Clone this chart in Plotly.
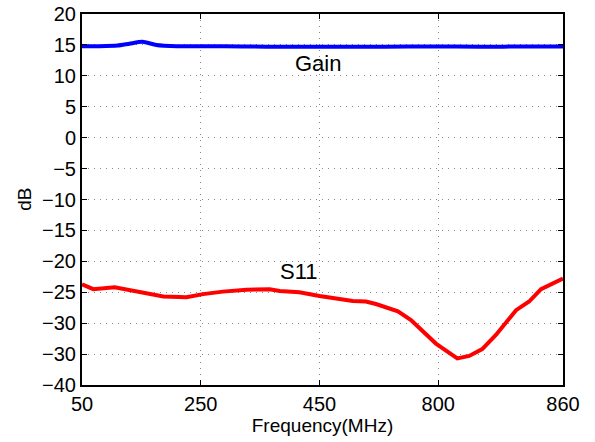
import plotly.graph_objects as go

# Data
gain_freq = [50, 80, 110, 130, 152, 175, 210, 260, 320, 400, 480, 560, 640, 720, 800, 860]
gain_db = [14.8, 14.8, 14.9, 15.2, 15.5, 15.0, 14.8, 14.8, 14.75, 14.7, 14.7, 14.7, 14.75, 14.7, 14.75, 14.75]

s11_freq = [50, 69, 105, 142, 187, 226, 254, 287, 327, 366, 383, 416, 450, 506, 528, 545,
            582, 604, 646, 682, 702, 724, 747, 781, 803, 823, 860]
s11_db = [-23.7, -24.5, -24.2, -24.9, -25.7, -25.8, -25.3, -24.9, -24.6, -24.5, -24.8, -25.0,
          -25.6, -26.4, -26.5, -26.9, -28.1, -29.5, -33.3, -35.7, -35.3, -34.2, -31.9, -27.9,
          -26.5, -24.5, -22.8]

x_tickvals = [50, 250, 450, 650, 860]
x_ticktext = ["50", "250", "450", "800", "860"]
y_tickvals = [20, 15, 10, 5, 0, -5, -10, -15, -20, -25, -30, -35, -40]
y_ticktext = ["20", "15", "10", "5", "0", "\u22125", "\u221210", "\u221215", "\u221220",
              "\u221225", "\u221230", "\u221230", "\u221240"]

font = "Liberation Sans, Arial, sans-serif"

fig = go.Figure()
fig.add_trace(go.Scatter(x=gain_freq, y=gain_db, mode="lines",
                         line=dict(color="#0000ff", width=4, shape="spline", smoothing=0.6),
                         showlegend=False))
fig.add_trace(go.Scatter(x=s11_freq, y=s11_db, mode="lines",
                         line=dict(color="#ff0000", width=4),
                         showlegend=False))

fig.add_annotation(x=447, y=12.0, text="Gain", showarrow=False,
                   font=dict(family=font, size=22, color="black"))
fig.add_annotation(x=416, y=-21.6, text="S11", showarrow=False,
                   font=dict(family=font, size=22, color="black"))
fig.add_annotation(x=-0.12, xref="paper", y=0.5, yref="paper", text="dB", textangle=-90,
                   xanchor="center", yanchor="middle",
                   showarrow=False, font=dict(family=font, size=19, color="black"))

axis_common = dict(showline=True, linecolor="black", linewidth=2, mirror="ticks",
                   ticks="inside", ticklen=5, tickcolor="black", tickwidth=1,
                   showgrid=True, gridcolor="#888888", griddash="1px,5px", gridwidth=1,
                   zeroline=False, automargin=False,
                   tickfont=dict(family=font, size=20, color="black"))

fig.update_xaxes(range=[50, 860], tickvals=x_tickvals, ticktext=x_ticktext,
                 title=dict(text="Frequency(MHz)", font=dict(family=font, size=19, color="black"),
                            standoff=2),
                 **axis_common)
fig.update_yaxes(range=[-40, 20], tickvals=y_tickvals, ticktext=y_ticktext,
                 **axis_common)

fig.update_layout(width=595, height=442,
                  margin=dict(l=82, r=32, t=14, b=57),
                  plot_bgcolor="white", paper_bgcolor="white")

fig.write_html("out.html", config={"displayModeBar": False},
               post_script="document.body.style.margin='0';document.body.style.overflow='hidden';")
